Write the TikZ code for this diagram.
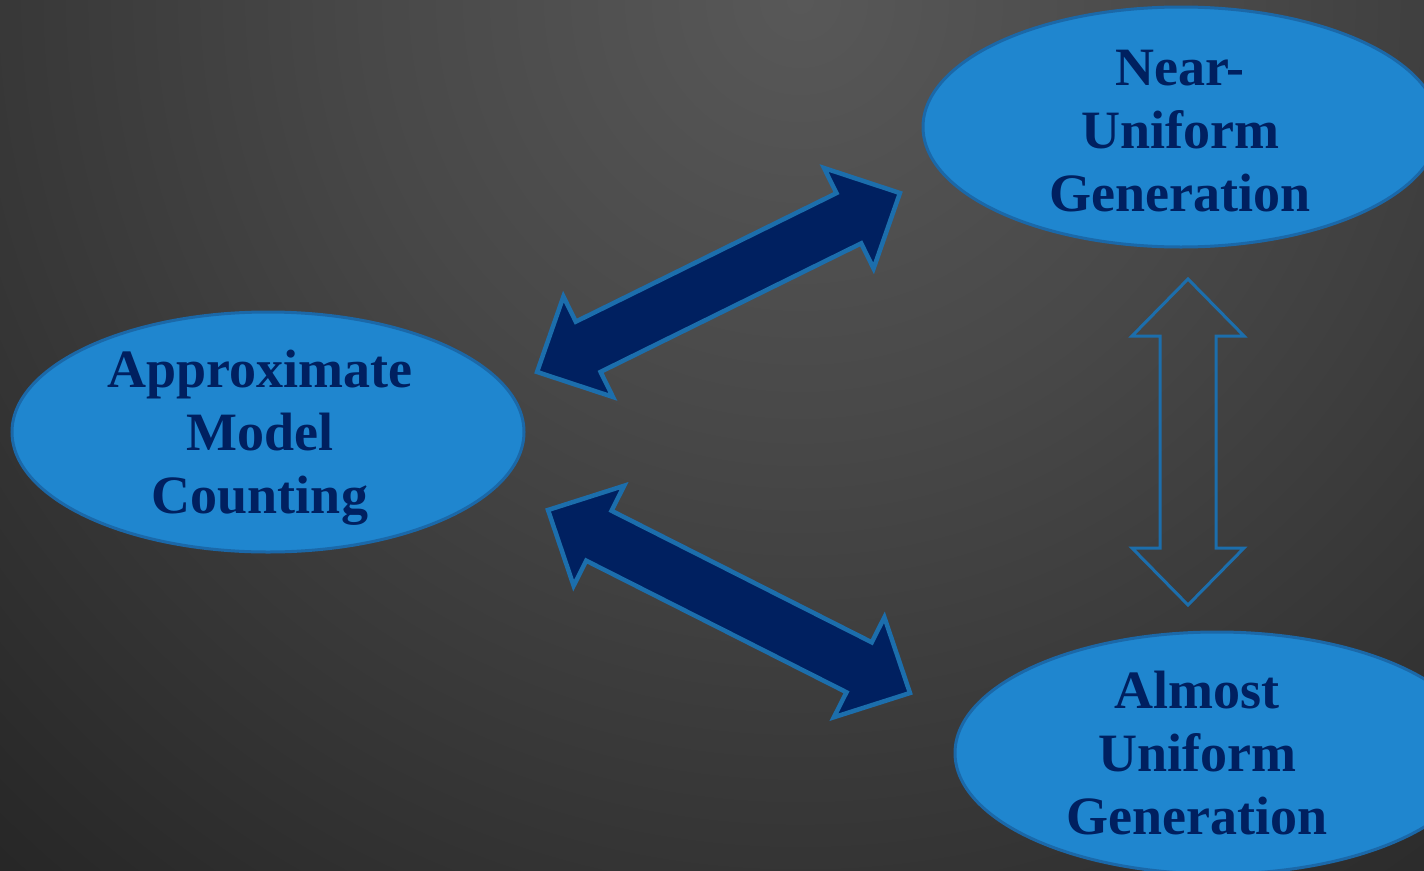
\documentclass[tikz,border=0pt]{standalone}
\usepackage{fontspec}
\setmainfont{Liberation Serif}
\usetikzlibrary{shapes.geometric}
\definecolor{navy}{RGB}{0,32,96}
\definecolor{ellfill}{RGB}{31,134,207}
\definecolor{ellline}{RGB}{27,104,168}
\definecolor{arrline}{RGB}{28,110,172}
\definecolor{bga}{RGB}{88,88,88}
\definecolor{bgb}{RGB}{72,72,72}
\definecolor{bgc}{RGB}{57,57,57}
\definecolor{bgd}{RGB}{42,42,42}
\definecolor{bge}{RGB}{38,38,38}
\pgfdeclareradialshading{bgshade}{\pgfpoint{0bp}{0bp}}{color(0bp)=(bga); color(9bp)=(bgb); color(16bp)=(bgc); color(23bp)=(bgd); color(25bp)=(bge); color(50bp)=(bge)}
\tikzset{
  bubble/.style={ellipse, draw=ellline, fill=ellfill, line width=3pt, inner sep=0pt},
  lbl/.style={align=center, text=navy, font=\fontsize{54}{63}\selectfont\bfseries},
  solidarrow/.style={fill=navy, draw=arrline, line width=4.5pt, line join=miter},
  hollowarrow/.style={draw=arrline, line width=3pt, line join=miter},
  pics/dbl/.style={code={\path[pic actions] (-#1,0) -- ({-#1+57},56) -- ({-#1+57},28) -- ({#1-57},28) -- ({#1-57},56) -- (#1,0) -- ({#1-57},-56) -- ({#1-57},-28) -- ({-#1+57},-28) -- ({-#1+57},-56) -- cycle;}}
}
\begin{document}
\begin{tikzpicture}[x=1pt,y=-1pt]
\useasboundingbox (0,0) rectangle (1424,870);
\begin{scope}
\clip (0,0) rectangle (1424,870);
\fill[bge] (0,0) rectangle (1424,870);
\fill[shading=bgshade] (800,0) circle (1200pt);
\end{scope}
% ellipses
\node[bubble, minimum width=512pt, minimum height=240pt] (amc) at (268,432) {};
\node[lbl] (amct) at (260,438) {Approximate\\Model\\Counting};
\node[bubble, minimum width=516pt, minimum height=240pt] (nug) at (1181,127) {};
\node[lbl] (nugt) at (1180,131) {Near-\\Uniform\\Generation};
\node[bubble, minimum width=524pt, minimum height=242pt] (aug) at (1217,753) {};
\node[lbl] (augt) at (1197,753) {Almost\\Uniform\\Generation};
% arrows
\coordinate (a1) at (718.5,282.5);
\coordinate (a2) at (729,601.5);
\coordinate (a3) at (1188,442);
\pic[solidarrow, rotate=26.25] at (a1) {dbl=202.3};
\pic[solidarrow, rotate=-26.82] at (a2) {dbl=202.8};
\pic[hollowarrow, rotate=90] at (a3) {dbl=163};
\end{tikzpicture}
\end{document}
